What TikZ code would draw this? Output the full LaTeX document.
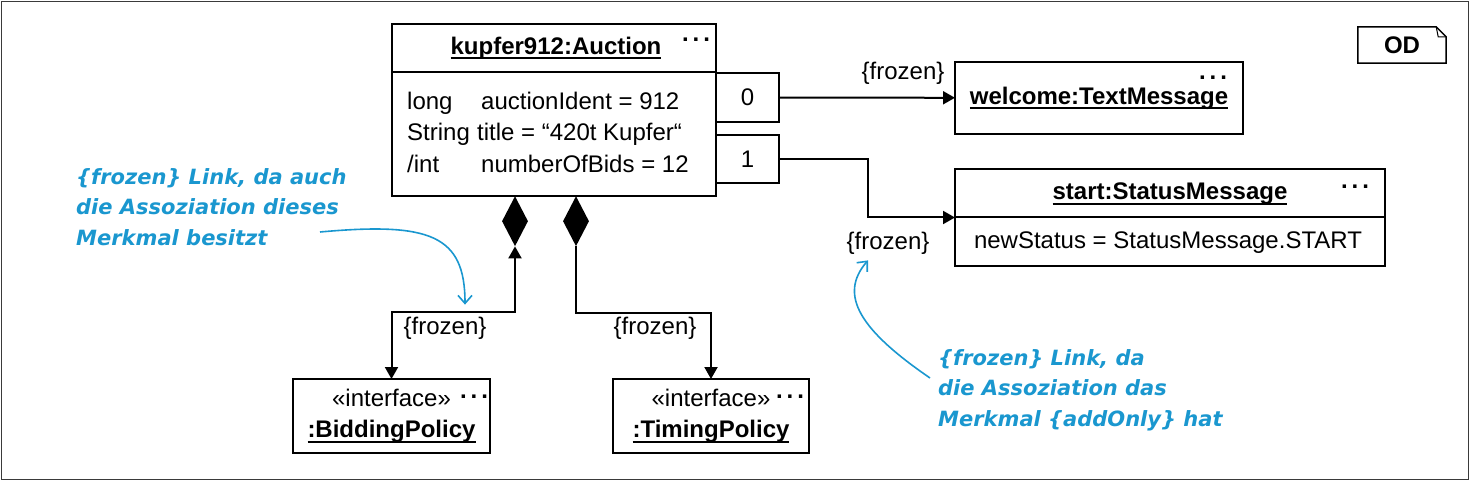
\documentclass[tikz,border=0pt]{standalone}
\usepackage{fontspec}
\setmainfont{Liberation Sans}
\newfontfamily\notefont{DejaVu Sans}
\usetikzlibrary{arrows.meta, positioning, shapes.geometric}
\definecolor{NoteBlue}{HTML}{1A97CF}
\definecolor{FrameGray}{HTML}{3A3A3A}
\newcommand{\objname}[1]{\textbf{\setbox0\hbox{#1}\rlap{\rule[-5pt]{\wd0}{2pt}}\box0}}

\begin{document}
\begin{tikzpicture}[>=Stealth, x=1pt, y=-1pt, font=\fontsize{24}{31.5}\selectfont]
        \tikzstyle{obj}   = [rectangle, draw, line width=2pt, inner sep=0pt, outer sep=0pt]
        \tikzstyle{txt}   = [inner sep=0pt]
        \tikzstyle{more}  = [inner sep=0pt, font=\fontsize{24}{24}\selectfont\bfseries]
        \tikzstyle{compo} = [diamond, fill=black, inner sep=0pt, aspect=0.5, minimum width=26pt, minimum height=50pt]
        \tikzstyle{link}  = [draw, line width=2pt, -{Triangle[width=13pt,length=12pt]}]
        \tikzstyle{note}  = [inner sep=0pt, align=left, text=NoteBlue, font=\notefont\bfseries\itshape\fontsize{21}{30.5}\selectfont]
        \tikzstyle{hint}  = [draw=NoteBlue, line width=1.6pt, -{Straight Barb[length=8pt,width=14pt]}]

        % Frame and diagram tag
        \useasboundingbox (0,0) rectangle (1470,481);
        \draw[line width=1.5pt, FrameGray] (1.5,1.5) rectangle (1468.5,479.5);
        \node[txt, minimum width=88pt, minimum height=36pt, font=\fontsize{24}{24}\selectfont\bfseries] (od) at (1402,45) {OD};
        \draw[line width=1.5pt] (od.north west) -- ([xshift=-10pt]od.north east) -- ([yshift=-10pt]od.north east) -- (od.south east) -- (od.south west) -- cycle;
        \draw[line width=1pt] ([xshift=-10pt]od.north east) -- ([xshift=-8pt,yshift=-10pt]od.north east) -- ([yshift=-10pt]od.north east);

        % Auction object
        \node[obj, minimum width=324pt, minimum height=172pt] (auction) at (554,110) {};
        \draw[line width=2pt] ([yshift=-48pt]auction.north west) -- ([yshift=-48pt]auction.north east);
        \node[txt] (auctionName) at (556,48) {\objname{kupfer912:Auction}};
        \node[more] at ([xshift=-20pt,yshift=-16pt]auction.north east) {.\kern4pt.\kern4pt.};
        \node[txt, anchor=west, align=left] (auctionAttr) at (407,132) {\makebox[74pt][l]{long}auctionIdent = 912\\ \makebox[70pt][l]{String}title = “420t Kupfer“\\ \makebox[74pt][l]{/int}numberOfBids = 12};
        \node[obj, minimum width=63pt, minimum height=49pt, anchor=north west] (q0) at ([yshift=-49pt]auction.north east) {0};
        \node[obj, minimum width=63pt, minimum height=48pt, anchor=north west] (q1) at ([yshift=-111pt]auction.north east) {1};

        % Linked objects
        \node[obj, minimum width=288pt, minimum height=72pt] (welcome) at (1099,98) {\objname{welcome:TextMessage}};
        \node[more] at ([xshift=-30pt,yshift=-16pt]welcome.north east) {.\kern4pt.\kern4pt.};
        \node[obj, minimum width=430pt, minimum height=97pt] (status) at (1170,217.5) {};
        \draw[line width=2pt] (status.west) -- (status.east);
        \node[txt] (statusName) at (1170,194) {\objname{start:StatusMessage}};
        \node[txt] (statusAttr) at (1168,243) {newStatus = StatusMessage.START};
        \node[more] at ([xshift=-30pt,yshift=-18pt]status.north east) {.\kern4pt.\kern4pt.};
        \node[obj, minimum width=197pt, minimum height=74pt, align=center] (bidding) at (391.5,416) {«interface»\\ \objname{:BiddingPolicy}};
        \node[more] at ([xshift=-16pt,yshift=-18pt]bidding.north east) {.\kern4pt.\kern4pt.};
        \node[obj, minimum width=196pt, minimum height=74pt, align=center] (timing) at (711,416) {«interface»\\ \objname{:TimingPolicy}};
        \node[more] at ([xshift=-19pt,yshift=-18pt]timing.north east) {.\kern4pt.\kern4pt.};

        % Compositions
        \node[compo, anchor=north] (d1) at ([xshift=-39pt]auction.south) {};
        \node[compo, anchor=north] (d2) at ([xshift=22pt]auction.south) {};

        % Links
        \draw[link, {Triangle[width=13pt,length=12pt]}-{Triangle[width=13pt,length=12pt]}] (d1.south) -- ++(0,66) -| (bidding.north);
        \draw[link] (d2.south) -- ++(0,67) -| (timing.north);
        \draw[link] (q0) -- (welcome);
        \draw[link] (q1.east) -- ++(89,0) |- (status.west);
        \node[txt] (frozD) at (903,73) {\{frozen\}};
        \node[txt] (frozB) at (888,243) {\{frozen\}};
        \node[txt] (frozA) at (445,328) {\{frozen\}};
        \node[txt] (frozC) at (655,328) {\{frozen\}};

        % Comments
        \node[note, anchor=west] (note1) at (76,207) {\{frozen\} Link, da auch\\die Assoziation dieses\\Merkmal besitzt};
        \node[note, anchor=west] (note2) at (938,390) {\{frozen\} Link, da\\die Assoziation das\\Merkmal \{addOnly\} hat};
        \coordinate (hintA) at (320,232);
        \coordinate (hintB) at (930,378);
        \draw[hint] (hintA) .. controls (430,222) and (465,235) .. ([xshift=20pt,yshift=12pt]frozA.north);
        \draw[hint] (hintB) .. controls (860,330) and (838,295) .. ([xshift=-20pt,yshift=-6pt]frozB.south);
    \end{tikzpicture}
\end{document}
